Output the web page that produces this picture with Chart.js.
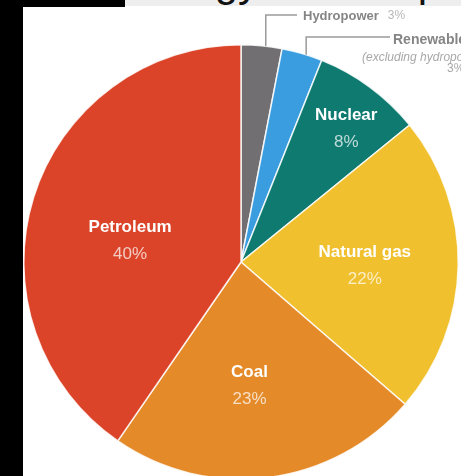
<!DOCTYPE html>
<html><head><meta charset="utf-8">
<script src="https://cdn.jsdelivr.net/npm/chart.js@4/dist/chart.umd.min.js"></script>
<style>
html,body{margin:0;padding:0;width:461px;height:476px;overflow:hidden;background:#fff;position:relative;}
#c{position:absolute;left:0;top:0;}
.blk{position:absolute;background:#000;}
#titlebar{position:absolute;left:125px;top:0;width:336px;height:6px;background:#eeeeee;overflow:hidden;}
#title{position:absolute;left:1px;top:-39px;font-family:'Liberation Sans',Arial,sans-serif;font-size:42px;line-height:42px;white-space:nowrap;color:#111;}
</style></head><body>
<canvas id="c" width="461" height="490"></canvas>
<div class="blk" style="left:0;top:0;width:23px;height:476px"></div>
<div class="blk" style="left:0;top:0;width:125px;height:7px"></div>
<div id="titlebar"><div id="title">Energy consumption by source</div></div>
<script>
const categories = ['Hydropower', 'Renewable', 'Nuclear', 'Natural gas', 'Coal', 'Petroleum'];
const shares = [3, 3, 8, 22, 23, 40];
const notes = ['', '(excluding hydropower)', '', '', '', ''];
const sliceColors = ['#716f71', '#3a9de0', '#0f7a70', '#f0c02e', '#e48a28', '#db4429'];

const FONT = '"Liberation Sans", Arial, sans-serif';
const innerPlace = {2:{t:0.57,r:0.78}, 3:{t:0.51,r:0.57}, 4:{t:0.54,r:0.57}, 5:{t:0.457,r:0.52}};
const outerPlace = {0:{t:0.6, elbowY:15, endX:297, textX:303, textY:16},
                    1:{t:0.6, elbowY:37, endX:390, textX:393, textY:40}};

const labelPlugin = {
  id:'sliceLabels',
  afterDatasetsDraw(chart){
    const ctx = chart.ctx;
    const arcs = chart.getDatasetMeta(0).data;
    ctx.save();
    arcs.forEach((arc, i) => {
      const p = arc.getProps(['x','y','startAngle','endAngle','outerRadius'], true);
      const ic = innerPlace[i];
      if (ic) {
        const a = p.startAngle + (p.endAngle - p.startAngle) * ic.t;
        const lx = p.x + Math.cos(a) * p.outerRadius * ic.r;
        const ly = p.y + Math.sin(a) * p.outerRadius * ic.r;
        ctx.textAlign = 'center'; ctx.textBaseline = 'middle';
        ctx.fillStyle = '#ffffff';
        ctx.font = 'bold 17px ' + FONT;
        ctx.fillText(categories[i], lx, ly - 13.5);
        ctx.fillStyle = 'rgba(255,255,255,0.72)';
        ctx.font = '17px ' + FONT;
        ctx.fillText(shares[i] + '%', lx, ly + 13.5);
      }
      const oc = outerPlace[i];
      if (oc) {
        const a = p.startAngle + (p.endAngle - p.startAngle) * oc.t;
        const sx = p.x + Math.cos(a) * p.outerRadius;
        const sy = p.y + Math.sin(a) * p.outerRadius;
        ctx.strokeStyle = '#9a9a9a'; ctx.lineWidth = 1.5;
        ctx.beginPath();
        ctx.moveTo(sx, sy);
        ctx.lineTo(sx, oc.elbowY);
        ctx.lineTo(oc.endX, oc.elbowY);
        ctx.stroke();
        ctx.textAlign = 'left'; ctx.textBaseline = 'middle';
        ctx.fillStyle = '#858585';
        ctx.font = 'bold 13px ' + FONT;
        if (i === 0) {
          ctx.fillText(categories[i], oc.textX, oc.textY);
          const w = ctx.measureText(categories[i]).width;
          ctx.fillStyle = '#b8b8b8';
          ctx.font = '12px ' + FONT;
          ctx.fillText(shares[i] + '%', oc.textX + w + 9, oc.textY);
        } else {
          ctx.font = 'bold 14px ' + FONT;
          ctx.fillText(categories[i], oc.textX, oc.textY);
          ctx.fillStyle = '#a8a8a8';
          ctx.font = 'italic 12px ' + FONT;
          ctx.fillText(notes[i], 362, 58);
          ctx.font = '12px ' + FONT;
          ctx.fillText(shares[i] + '%', 447, 69);
        }
      }
    });
    ctx.restore();
  }
};

new Chart(document.getElementById('c').getContext('2d'), {
  type: 'pie',
  data: {
    labels: categories,
    datasets: [{
      data: shares,
      backgroundColor: sliceColors,
      borderColor: 'rgba(255,255,255,0.85)',
      borderWidth: 1.5
    }]
  },
  options: {
    responsive: false,
    animation: false,
    devicePixelRatio: 1,
    layout: { padding: { left: 23, right: 2, top: 44, bottom: 10 } },
    plugins: { legend: { display: false }, tooltip: { enabled: false } }
  },
  plugins: [labelPlugin]
});
</script>
</body></html>
